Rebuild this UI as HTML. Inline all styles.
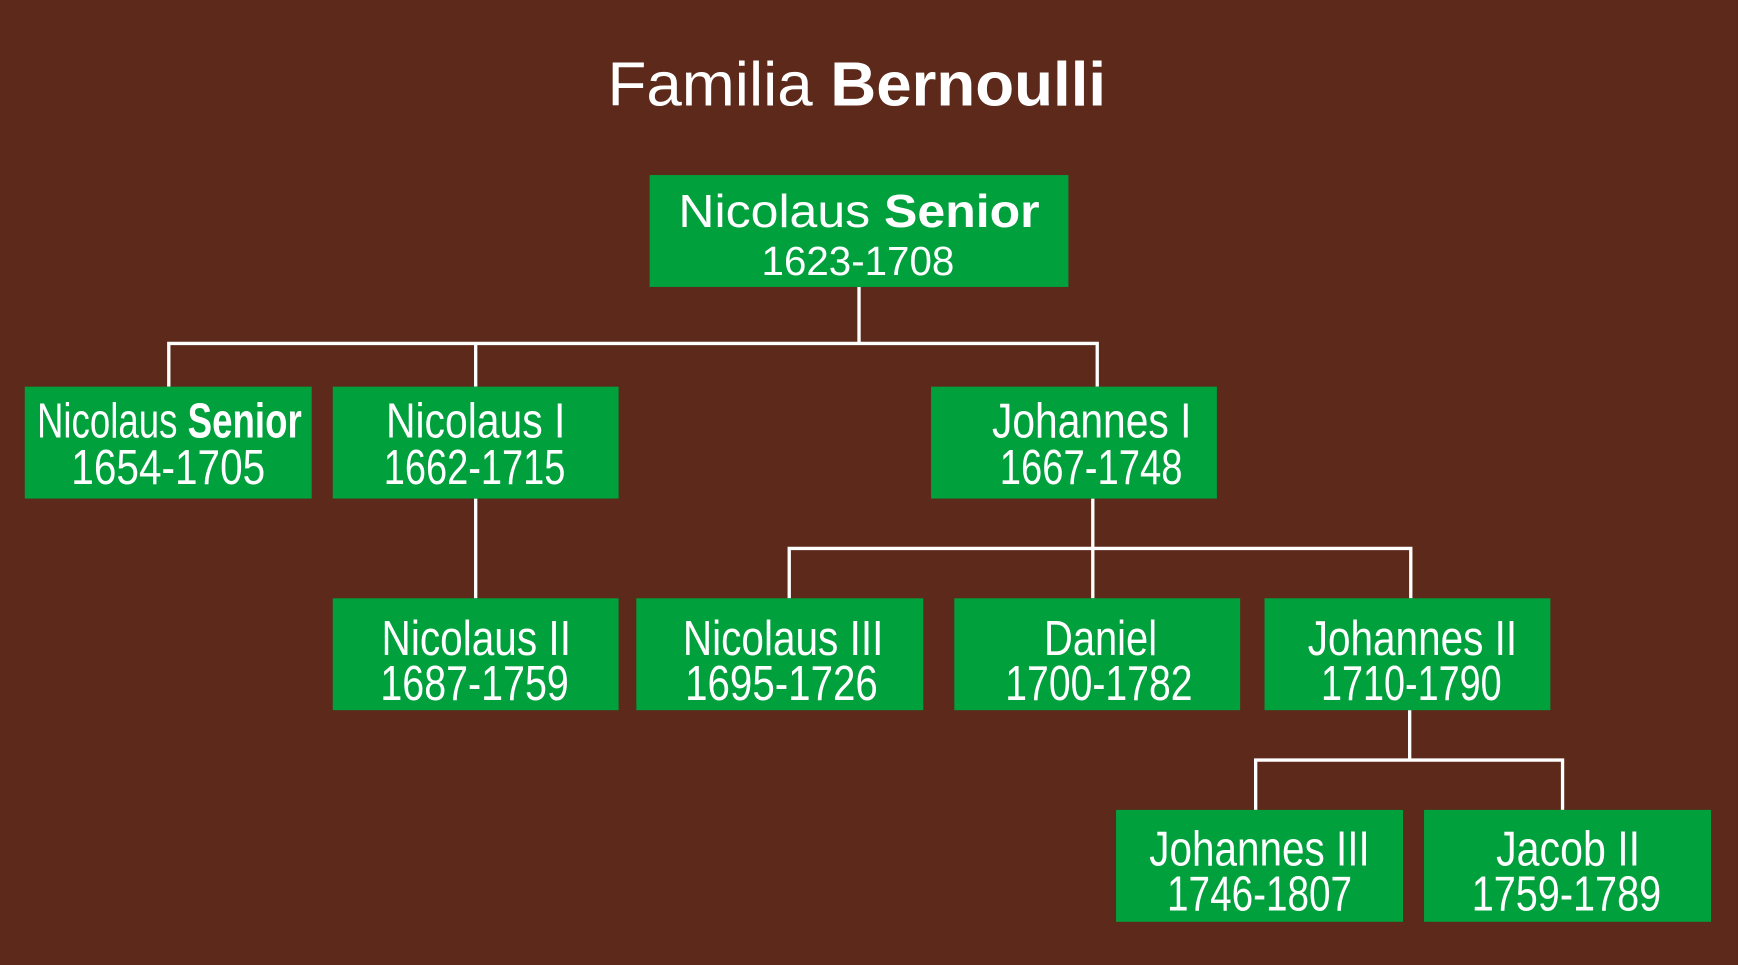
<!DOCTYPE html>
<html><head><meta charset="utf-8"><style>html,body{margin:0;padding:0;background:#5c291a;}svg{display:block}</style></head>
<body>
<svg width="1738" height="965" viewBox="0 0 1568 871" xmlns="http://www.w3.org/2000/svg" font-family="'Liberation Sans', sans-serif" fill="#fff">
<rect width="1568" height="871" fill="#5c291a"/>
<text x="548" y="95" font-size="56" textLength="450" lengthAdjust="spacingAndGlyphs">Familia <tspan font-weight="bold">Bernoulli</tspan></text>
<g stroke="#fff" stroke-width="3" fill="none">
<path d="M775 259V310M152 349V310H990V349M429 310V349"/>
<path d="M429 450V540"/>
<path d="M986 450V495M712 540V495H1273V540M986 495V540"/>
<path d="M1272 641V686M1133 731V686H1410V731"/>
</g>
<g fill="#00a03c">
<rect x="586" y="158" width="378" height="101"/>
<rect x="22" y="349" width="259" height="101"/>
<rect x="300" y="349" width="258" height="101"/>
<rect x="840" y="349" width="258" height="101"/>
<rect x="300" y="540" width="258" height="101"/>
<rect x="574" y="540" width="259" height="101"/>
<rect x="861" y="540" width="258" height="101"/>
<rect x="1141" y="540" width="258" height="101"/>
<rect x="1007" y="731" width="259" height="101"/>
<rect x="1285" y="731" width="259" height="101"/>
</g>
<g lengthAdjust="spacingAndGlyphs">
<text x="612" y="205" font-size="42" textLength="326" lengthAdjust="spacingAndGlyphs">Nicolaus <tspan font-weight="bold">Senior</tspan></text>
<text x="687" y="248" font-size="37" textLength="174" lengthAdjust="spacingAndGlyphs">1623-1708</text>
<g font-size="44">
<text x="33" y="395" textLength="239" lengthAdjust="spacingAndGlyphs">Nicolaus <tspan font-weight="bold">Senior</tspan></text>
<text x="64" y="437" textLength="175" lengthAdjust="spacingAndGlyphs">1654-1705</text>
<text x="348" y="395" textLength="162" lengthAdjust="spacingAndGlyphs">Nicolaus I</text>
<text x="346" y="437" textLength="164" lengthAdjust="spacingAndGlyphs">1662-1715</text>
<text x="895" y="395" textLength="180" lengthAdjust="spacingAndGlyphs">Johannes I</text>
<text x="902" y="437" textLength="165" lengthAdjust="spacingAndGlyphs">1667-1748</text>
<text x="344" y="591" textLength="171" lengthAdjust="spacingAndGlyphs">Nicolaus II</text>
<text x="343" y="632" textLength="170" lengthAdjust="spacingAndGlyphs">1687-1759</text>
<text x="616" y="591" textLength="181" lengthAdjust="spacingAndGlyphs">Nicolaus III</text>
<text x="618" y="632" textLength="174" lengthAdjust="spacingAndGlyphs">1695-1726</text>
<text x="942" y="591" textLength="102" lengthAdjust="spacingAndGlyphs">Daniel</text>
<text x="907" y="632" textLength="169" lengthAdjust="spacingAndGlyphs">1700-1782</text>
<text x="1180" y="591" textLength="189" lengthAdjust="spacingAndGlyphs">Johannes II</text>
<text x="1192" y="632" textLength="163" lengthAdjust="spacingAndGlyphs">1710-1790</text>
<text x="1037" y="781" textLength="199" lengthAdjust="spacingAndGlyphs">Johannes III</text>
<text x="1053" y="822" textLength="167" lengthAdjust="spacingAndGlyphs">1746-1807</text>
<text x="1350" y="781" textLength="130" lengthAdjust="spacingAndGlyphs">Jacob II</text>
<text x="1328" y="822" textLength="171" lengthAdjust="spacingAndGlyphs">1759-1789</text>
</g>
</g>
</svg>
</body></html>
